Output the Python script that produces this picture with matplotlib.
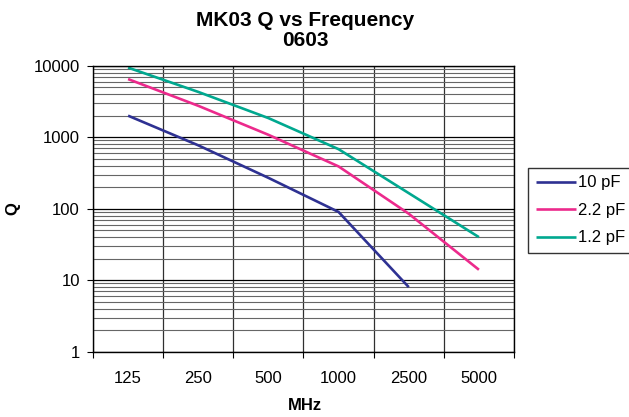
import numpy as np
import matplotlib
matplotlib.use("Agg")
import matplotlib.pyplot as plt
from matplotlib.ticker import LogLocator, NullFormatter, FixedLocator

plt.rcParams['font.family'] = ['Liberation Sans', 'DejaVu Sans']

# data (Q per frequency category)
freq = ["125", "250", "500", "1000", "2500", "5000"]
q_10pf = [2000, 770, 270, 90, 8]
q_2p2pf = [6500, 2750, 1080, 390, 85, 14]
q_1p2pf = [9400, 4300, 1850, 680, 165, 40]
labels = ["10 pF", "2.2 pF", "1.2 pF"]
colors = ["#2E3192", "#EC2A8C", "#00A88F"]

W, H = 629, 417
fig = plt.figure(figsize=(W/100., H/100.), dpi=100)
ax = fig.add_axes([93./W, 1-351.7/H, (514-93.)/W, (351.7-65.7)/H])

series = [q_10pf, q_2p2pf, q_1p2pf]
for vals, lab, col in zip(series, labels, colors):
    x = np.arange(len(vals))
    ax.plot(x, vals, color=col, lw=1.9, label=lab, solid_capstyle='butt')

ax.set_yscale('log')
ax.set_ylim(1, 10000)
ax.set_xlim(-0.5, len(freq)-0.5)

# y axis: decade labels, minor grid
ax.yaxis.set_major_locator(LogLocator(base=10, numticks=10))
ax.yaxis.set_minor_locator(LogLocator(base=10, subs=np.arange(2, 10), numticks=20))
ax.yaxis.set_minor_formatter(NullFormatter())
ax.set_yticks([1, 10, 100, 1000, 10000])
ax.set_yticklabels(["1", "10", "100", "1000", "10000"])
ax.tick_params(axis='y', which='major', direction='out', length=4.5, width=0.8,
               labelsize=12, pad=5)
ax.tick_params(axis='y', which='minor', length=0)
ax.grid(True, axis='y', which='major', color='black', lw=0.9)
ax.grid(True, axis='y', which='minor', color='#666666', lw=0.8)

# x axis: category labels between boundary ticks
ax.xaxis.set_major_locator(FixedLocator(np.arange(-0.5, len(freq), 1.0)))
ax.xaxis.set_minor_locator(FixedLocator(np.arange(len(freq))))
ax.set_xticklabels([])
ax.set_xticks(np.arange(len(freq)), minor=True)
ax.set_xticklabels(freq, minor=True)
ax.tick_params(axis='x', which='major', direction='out', length=4.5, width=0.8)
ax.tick_params(axis='x', which='minor', length=0, labelsize=12, pad=14)
ax.grid(True, axis='x', which='major', color='#303030', lw=0.9)
ax.set_axisbelow(True)

for s in ax.spines.values():
    s.set_color('black')
    s.set_linewidth(1.0)

fig.text(305./W, 1-20./H, "MK03 Q vs Frequency", ha='center', va='center',
         fontsize=15, fontweight='bold')
fig.text(305./W, 1-40./H, "0603", ha='center', va='center',
         fontsize=15, fontweight='bold')
fig.text(305./W, 1-405./H, "MHz", ha='center', va='center',
         fontsize=12, fontweight='bold')
fig.text(13./W, 1-209./H, "Q", ha='center', va='center', rotation=90,
         fontsize=12, fontweight='bold')

leg = fig.legend(loc='upper left', bbox_to_anchor=(528./W, 1-168./H),
                 fontsize=12, frameon=True, fancybox=False, shadow=False,
                 handlelength=2.4, handletextpad=0.15, borderpad=0.45,
                 labelspacing=0.75, borderaxespad=0)
leg.get_frame().set_edgecolor('black')
leg.get_frame().set_linewidth(1.0)

fig.savefig("out.png", dpi=100)
